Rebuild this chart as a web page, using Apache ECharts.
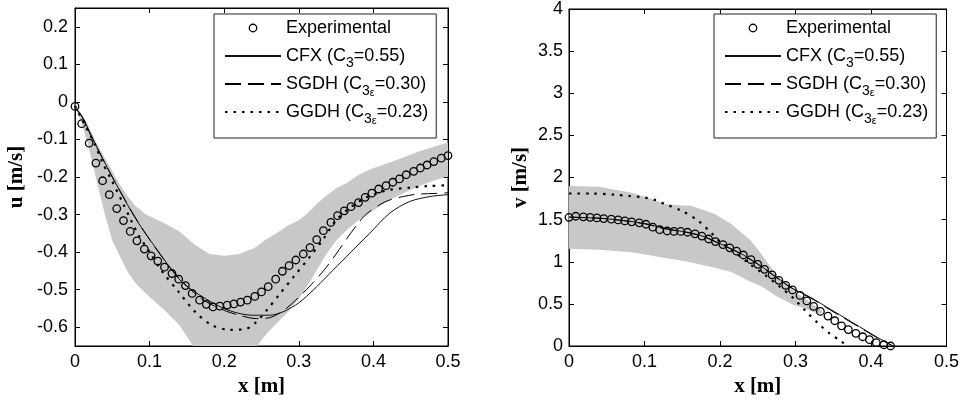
<!DOCTYPE html>
<html lang="en">
<head>
  <meta charset="utf-8">
  <title>u / v profiles - ECharts</title>
  <script src="https://cdn.jsdelivr.net/npm/echarts@6.0.0/dist/echarts.min.js"></script>
  <style>
    * { margin: 0; padding: 0; }
    body { background: #fff; }
    #chart { width: 962px; height: 406px; }
  </style>
</head>
<body>
<div id="chart"></div>
<script>
// ---------- data ----------
var seriesNames = ['Experimental', 'CFX (C3=0.55)', 'SGDH (C3e=0.30)', 'GGDH (C3e=0.23)'];
var legendLabels = [
  '{t|Experimental}',
  '{t|CFX (C}{s|3}{t|=0.55)}',
  '{t|SGDH (C}{s|3}{e|ε}{t|=0.30)}',
  '{t|GGDH (C}{s|3}{e|ε}{t|=0.23)}'
];

// left panel: u [m/s]
var xExpU = [0, 0.009, 0.019, 0.028, 0.037, 0.046, 0.056, 0.065, 0.074, 0.083, 0.093, 0.102, 0.111, 0.120, 0.130,
  0.139, 0.148, 0.157, 0.167, 0.176, 0.185, 0.194, 0.204, 0.213, 0.222, 0.231, 0.241, 0.250, 0.259, 0.269, 0.278,
  0.287, 0.296, 0.306, 0.315, 0.324, 0.333, 0.343, 0.352, 0.361, 0.370, 0.380, 0.389, 0.398, 0.407, 0.417, 0.426,
  0.435, 0.444, 0.454, 0.463, 0.472, 0.481, 0.491, 0.500];
var uExp = [-0.012, -0.058, -0.11, -0.163, -0.21, -0.247, -0.284, -0.316, -0.345, -0.37, -0.392, -0.41, -0.424,
  -0.44, -0.457, -0.472, -0.489, -0.51, -0.528, -0.539, -0.546, -0.544, -0.541, -0.538, -0.533, -0.528, -0.518,
  -0.506, -0.492, -0.472, -0.451, -0.436, -0.421, -0.405, -0.388, -0.367, -0.343, -0.321, -0.303, -0.29, -0.279,
  -0.268, -0.254, -0.243, -0.232, -0.223, -0.214, -0.205, -0.194, -0.185, -0.176, -0.168, -0.159, -0.15, -0.143];

var xCfxU = [0, 0.01, 0.023, 0.05, 0.081, 0.112, 0.143, 0.175, 0.206, 0.237, 0.261, 0.28, 0.3, 0.32, 0.34,
  0.364, 0.395, 0.422, 0.449, 0.476, 0.5];
var uCfx = [-0.015, -0.04, -0.095, -0.2, -0.31, -0.399, -0.479, -0.524, -0.555, -0.568, -0.568, -0.558, -0.535,
  -0.5, -0.46, -0.412, -0.35, -0.296, -0.265, -0.252, -0.247];

var xSgdhU = [0, 0.01, 0.023, 0.05, 0.08, 0.11, 0.14, 0.17, 0.2, 0.22, 0.243, 0.26, 0.28, 0.3, 0.315, 0.333,
  0.35, 0.364, 0.38, 0.391, 0.41, 0.422, 0.44, 0.458, 0.48, 0.5];
var uSgdh = [-0.015, -0.042, -0.097, -0.2, -0.305, -0.395, -0.47, -0.525, -0.555, -0.568, -0.577, -0.575, -0.555,
  -0.52, -0.49, -0.45, -0.405, -0.365, -0.322, -0.298, -0.272, -0.261, -0.252, -0.246, -0.244, -0.242];

var xGgdhU = [0, 0.014, 0.027, 0.036, 0.05, 0.063, 0.076, 0.085, 0.1, 0.117, 0.139, 0.161, 0.184, 0.208, 0.23,
  0.243, 0.257, 0.275, 0.293, 0.315, 0.333, 0.35, 0.37, 0.39, 0.41, 0.422, 0.45, 0.475, 0.5];
var uGgdh = [-0.01, -0.065, -0.114, -0.158, -0.212, -0.265, -0.319, -0.354, -0.4, -0.452, -0.506, -0.559, -0.595,
  -0.607, -0.604, -0.586, -0.555, -0.51, -0.466, -0.412, -0.365, -0.315, -0.28, -0.255, -0.24, -0.234, -0.228,
  -0.224, -0.222];

var xBandU = [0, 0.008, 0.017, 0.029, 0.04, 0.05, 0.06, 0.07, 0.08, 0.095, 0.12, 0.14, 0.16, 0.18, 0.2, 0.22,
  0.24, 0.257, 0.27, 0.285, 0.3, 0.31, 0.325, 0.337, 0.35, 0.365, 0.38, 0.395, 0.42, 0.44, 0.46, 0.48, 0.5];
var uBandHigh = [-0.005, -0.03, -0.06, -0.11, -0.15, -0.185, -0.22, -0.25, -0.275, -0.3, -0.323, -0.345, -0.38,
  -0.405, -0.41, -0.405, -0.39, -0.365, -0.35, -0.33, -0.315, -0.3, -0.27, -0.25, -0.23, -0.215, -0.195, -0.18,
  -0.163, -0.148, -0.133, -0.12, -0.108];
var uBandLow = [-0.015, -0.05, -0.11, -0.21, -0.30, -0.37, -0.41, -0.45, -0.48, -0.51, -0.555, -0.595, -0.655,
  -0.72, -0.75, -0.72, -0.66, -0.617, -0.59, -0.56, -0.525, -0.495, -0.445, -0.405, -0.37, -0.34, -0.315, -0.295,
  -0.263, -0.243, -0.225, -0.21, -0.198];

// right panel: v [m/s]
var xExpV = [0, 0.009, 0.019, 0.028, 0.037, 0.046, 0.056, 0.065, 0.074, 0.083, 0.093, 0.102, 0.111, 0.120, 0.130,
  0.139, 0.148, 0.157, 0.167, 0.176, 0.185, 0.194, 0.204, 0.213, 0.222, 0.231, 0.241, 0.250, 0.259, 0.269, 0.278,
  0.287, 0.296, 0.306, 0.315, 0.324, 0.333, 0.343, 0.352, 0.361, 0.370, 0.380, 0.389, 0.398, 0.407, 0.417, 0.426];
var vExp = [1.527, 1.54, 1.533, 1.527, 1.52, 1.513, 1.505, 1.496, 1.485, 1.474, 1.462, 1.445, 1.41, 1.38, 1.365,
  1.36, 1.36, 1.35, 1.332, 1.305, 1.27, 1.24, 1.204, 1.165, 1.125, 1.08, 1.025, 0.97, 0.91, 0.845, 0.78, 0.72,
  0.665, 0.6, 0.535, 0.47, 0.41, 0.355, 0.30, 0.24, 0.195, 0.15, 0.11, 0.075, 0.04, 0.015, 0.0];

var xCfxV = [0, 0.05, 0.1, 0.12, 0.14, 0.16, 0.18, 0.2, 0.225, 0.25, 0.275, 0.297, 0.319, 0.341, 0.363, 0.385,
  0.407, 0.429];
var vCfx = [1.53, 1.51, 1.455, 1.41, 1.375, 1.345, 1.295, 1.215, 1.11, 0.975, 0.815, 0.68, 0.582, 0.464, 0.346,
  0.228, 0.11, 0.0];
var vSgdh = [1.53, 1.51, 1.45, 1.405, 1.37, 1.34, 1.29, 1.21, 1.105, 0.97, 0.81, 0.675, 0.575, 0.455, 0.337,
  0.22, 0.104, 0.0];

var xGgdhV = [0, 0.03, 0.061, 0.08, 0.1, 0.115, 0.127, 0.149, 0.171, 0.189, 0.2, 0.22, 0.24, 0.26, 0.28, 0.297,
  0.314, 0.33, 0.345, 0.36, 0.368];
var vGgdh = [1.81, 1.81, 1.795, 1.78, 1.763, 1.73, 1.685, 1.606, 1.488, 1.338, 1.24, 1.11, 0.97, 0.84, 0.7, 0.57,
  0.41, 0.27, 0.15, 0.06, 0.0];

var xBandV = [0, 0.04, 0.083, 0.105, 0.127, 0.145, 0.162, 0.193, 0.215, 0.241, 0.255, 0.275, 0.297, 0.31, 0.325,
  0.335];
var vBandHigh = [1.9, 1.89, 1.82, 1.76, 1.685, 1.67, 1.665, 1.567, 1.449, 1.25, 1.09, 0.84, 0.66, 0.58, 0.48, 0.42];
var vBandLow = [1.155, 1.142, 1.114, 1.08, 1.045, 1.02, 0.99, 0.93, 0.877, 0.76, 0.71, 0.59, 0.49, 0.45, 0.40, 0.38];

var uTicks = [-0.6, -0.5, -0.4, -0.3, -0.2, -0.1, 0, 0.1, 0.2];

// ---------- helpers ----------
var SANS = 'Liberation Sans';
var BAND = '#c8c8c8';
var CLEAR = 'rgba(0,0,0,0)';
var HOLLOW = { color: CLEAR, borderColor: '#000', borderWidth: 1.3 };

function pairs(xs, ys) {
  return xs.map(function (x, i) { return [x, ys[i]]; });
}
function fmt(v) {
  return String(Math.round(v * 100) / 100);
}

var tickStyle = { inside: true, length: 5, lineStyle: { color: '#000', width: 1 } };
var lineAxis = { onZero: false, lineStyle: { color: '#000', width: 1 } };
var labelStyle = { fontFamily: SANS, fontSize: 18, color: '#000', formatter: fmt, showMinLabel: true, showMaxLabel: true };
var nameStyle = { fontFamily: 'Liberation Serif', fontWeight: 'bold', fontSize: 21, color: '#000' };

function xAxisDef(grid, pos) {
  var main = pos === 'bottom';
  return {
    type: 'value', gridIndex: grid, position: pos, min: 0, max: 0.5, interval: 0.1,
    name: main ? 'x [m]' : '', nameLocation: 'middle', nameGap: 30, nameTextStyle: nameStyle,
    axisLine: lineAxis, axisTick: tickStyle,
    axisLabel: Object.assign({ show: main, margin: 7 }, labelStyle),
    splitLine: { show: false }
  };
}

var chart = echarts.init(document.getElementById('chart'), null, { renderer: 'canvas' });

// legend entries: hollow circle for the measurements, plain line samples for the models
var legendData = seriesNames.map(function (n, i) {
  return i === 0
    ? { name: n, icon: 'circle', itemStyle: HOLLOW }
    : { name: n, itemStyle: { opacity: 0 } };
});

var legendBase = {
  orient: 'vertical', top: 14,
  backgroundColor: '#fff', borderColor: '#222', borderWidth: 1,
  padding: [0, 8, 12, 10],
  itemWidth: 56, itemHeight: 7.5, itemGap: 0,
  symbolKeepAspect: false,
  data: legendData,
  formatter: function (name) { return legendLabels[seriesNames.indexOf(name)]; },
  textStyle: {
    fontFamily: SANS, fontSize: 18, color: '#000', lineHeight: 28,
    rich: {
      t: { fontFamily: SANS, fontSize: 18, color: '#000', lineHeight: 28 },
      s: { fontFamily: SANS, fontSize: 14, color: '#000', lineHeight: 28, verticalAlign: 'bottom' },
      e: { fontFamily: SANS, fontSize: 11, color: '#000', lineHeight: 28, verticalAlign: 'bottom' }
    }
  }
};

function expSeries(name, xi, yi, xs, ys) {
  return {
    name: name, type: 'line', xAxisIndex: xi, yAxisIndex: yi, data: pairs(xs, ys),
    symbol: 'circle', symbolSize: 7.5, showAllSymbol: true, clip: false,
    lineStyle: { width: 1, color: CLEAR },
    itemStyle: HOLLOW,
    z: 5
  };
}
function modelSeries(name, xi, yi, xs, ys, style) {
  return {
    name: name, type: 'line', xAxisIndex: xi, yAxisIndex: yi, data: pairs(xs, ys),
    symbol: 'none', smooth: 0.3, lineStyle: style, itemStyle: { color: '#000' }, z: 3
  };
}
// shaded uncertainty band: one polygon (upper edge, then lower edge backwards)
function bandSeries(xi, yi, xs, lo, hi) {
  return {
    type: 'custom', xAxisIndex: xi, yAxisIndex: yi, clip: true, silent: true, z: 1,
    data: [[xs[0], hi[0]]],
    renderItem: function (params, api) {
      var pts = [];
      for (var i = 0; i < xs.length; i++) pts.push(api.coord([xs[i], hi[i]]));
      for (var j = xs.length - 1; j >= 0; j--) pts.push(api.coord([xs[j], lo[j]]));
      return { type: 'polygon', shape: { points: pts }, style: { fill: BAND, stroke: null } };
    }
  };
}

var solid = { color: '#111', width: 1, type: 'solid' };
var dashed = { color: '#000', width: 1, type: [16, 7] };
var dotted = { color: '#000', width: 2.2, type: [2.5, 6] };

var option = {
  animation: false,
  backgroundColor: '#fff',
  grid: [
    { left: 75, top: 8, width: 373, height: 338, show: true, borderColor: '#000', borderWidth: 1 },
    { left: 569, top: 7, width: 378, height: 339, show: true, borderColor: '#000', borderWidth: 1 }
  ],
  legend: [
    Object.assign({ left: 214 }, legendBase),
    Object.assign({ left: 714 }, legendBase)
  ],
  xAxis: [xAxisDef(0, 'bottom'), xAxisDef(1, 'bottom'), xAxisDef(0, 'top'), xAxisDef(1, 'top')],
  yAxis: [
    {
      type: 'value', gridIndex: 0, position: 'left', min: -0.65, max: 0.25,
      name: 'u [m/s]', nameLocation: 'middle', nameGap: 48, nameTextStyle: nameStyle,
      axisLine: lineAxis,
      axisTick: Object.assign({ customValues: uTicks }, tickStyle),
      axisLabel: Object.assign({ margin: 7, customValues: uTicks }, labelStyle),
      splitLine: { show: false }
    },
    {
      type: 'value', gridIndex: 1, position: 'left', min: 0, max: 4, interval: 0.5,
      name: 'v [m/s]', nameLocation: 'middle', nameGap: 38, nameTextStyle: nameStyle,
      axisLine: lineAxis, axisTick: tickStyle,
      axisLabel: Object.assign({ margin: 6 }, labelStyle),
      splitLine: { show: false }
    },
    {
      type: 'value', gridIndex: 0, position: 'right', min: -0.65, max: 0.25,
      axisLine: lineAxis, axisTick: Object.assign({ customValues: uTicks }, tickStyle),
      axisLabel: { show: false }, splitLine: { show: false }
    },
    {
      type: 'value', gridIndex: 1, position: 'right', min: 0, max: 4, interval: 0.5,
      axisLine: lineAxis, axisTick: tickStyle,
      axisLabel: { show: false }, splitLine: { show: false }
    }
  ],
  series: [
    bandSeries(0, 0, xBandU, uBandLow, uBandHigh),
    bandSeries(1, 1, xBandV, vBandLow, vBandHigh),
    modelSeries(seriesNames[1], 0, 0, xCfxU, uCfx, solid),
    modelSeries(seriesNames[2], 0, 0, xSgdhU, uSgdh, dashed),
    modelSeries(seriesNames[3], 0, 0, xGgdhU, uGgdh, dotted),
    expSeries(seriesNames[0], 0, 0, xExpU, uExp),
    modelSeries(seriesNames[1], 1, 1, xCfxV, vCfx, solid),
    modelSeries(seriesNames[2], 1, 1, xCfxV, vSgdh, dashed),
    modelSeries(seriesNames[3], 1, 1, xGgdhV, vGgdh, dotted),
    expSeries(seriesNames[0], 1, 1, xExpV, vExp)
  ]
};

chart.setOption(option);
window.addEventListener('resize', chart.resize);
</script>
</body>
</html>
